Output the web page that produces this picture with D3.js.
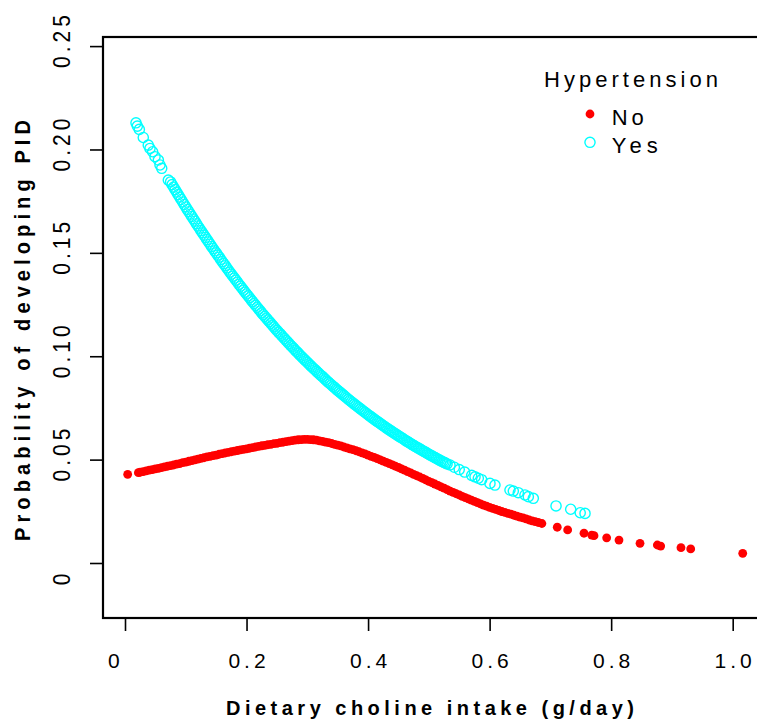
<!DOCTYPE html>
<html><head><meta charset="utf-8">
<script src="https://cdn.jsdelivr.net/npm/d3@7"></script>
<style>body{margin:0;background:#fff}svg{display:block}</style>
</head><body><svg id="c" width="757" height="719"></svg>
<script>
// ---- data ----
const noX = [0.0044,0.022,0.025,0.030,0.035,0.040,0.045,0.050,0.055,0.060,0.065,0.070,0.075,0.080,0.085,0.090,0.095,0.100,0.105,0.110,0.115,0.120,0.125,0.130,0.135,0.140,0.145,0.150,0.155,0.160,0.165,0.170,0.175,0.180,0.185,0.190,0.195,0.200,0.205,0.210,0.215,0.220,0.225,0.230,0.235,0.240,0.245,0.250,0.255,0.260,0.265,0.270,0.275,0.280,0.285,0.290,0.295,0.300,0.305,0.310,0.315,0.320,0.325,0.330,0.335,0.340,0.345,0.350,0.355,0.360,0.365,0.370,0.375,0.380,0.385,0.390,0.395,0.400,0.405,0.410,0.415,0.420,0.425,0.430,0.435,0.440,0.445,0.450,0.455,0.460,0.465,0.470,0.475,0.480,0.485,0.490,0.495,0.500,0.505,0.510,0.515,0.520,0.525,0.530,0.535,0.540,0.545,0.550,0.555,0.560,0.565,0.570,0.575,0.580,0.585,0.590,0.595,0.600,0.605,0.610,0.615,0.620,0.625,0.630,0.635,0.640,0.645,0.650,0.655,0.660,0.665,0.670,0.675,0.680,0.686,0.7113,0.7284,0.7553,0.768,0.7718,0.7926,0.8129,0.8475,0.876,0.8815,0.9149,0.9309,1.0165];
const noY = [0.0429,0.0437,0.0439,0.0442,0.0446,0.0449,0.0452,0.0455,0.0458,0.0461,0.0465,0.0468,0.0471,0.0474,0.0478,0.0481,0.0485,0.0488,0.0492,0.0495,0.0499,0.0502,0.0506,0.0509,0.0513,0.0516,0.0519,0.0522,0.0526,0.0529,0.0532,0.0535,0.0538,0.0541,0.0544,0.0547,0.0550,0.0552,0.0555,0.0558,0.0561,0.0564,0.0567,0.0569,0.0572,0.0574,0.0577,0.0579,0.0582,0.0584,0.0587,0.0589,0.0592,0.0594,0.0596,0.0597,0.0598,0.0598,0.0597,0.0596,0.0594,0.0591,0.0588,0.0585,0.0582,0.0578,0.0574,0.0570,0.0566,0.0561,0.0557,0.0552,0.0548,0.0543,0.0538,0.0533,0.0528,0.0522,0.0516,0.0511,0.0505,0.0499,0.0493,0.0487,0.0481,0.0475,0.0468,0.0462,0.0455,0.0449,0.0442,0.0436,0.0429,0.0422,0.0416,0.0409,0.0402,0.0395,0.0389,0.0382,0.0375,0.0368,0.0362,0.0355,0.0348,0.0342,0.0335,0.0329,0.0322,0.0316,0.0310,0.0304,0.0298,0.0292,0.0286,0.0280,0.0275,0.0269,0.0264,0.0259,0.0254,0.0249,0.0245,0.0240,0.0236,0.0231,0.0227,0.0222,0.0218,0.0213,0.0208,0.0204,0.0200,0.0196,0.0191,0.0173,0.0160,0.0144,0.0135,0.0132,0.0122,0.0111,0.0095,0.0087,0.0082,0.0074,0.0068,0.0047];
const yesX = [0.0181,0.0203,0.0236,0.0301,0.0383,0.0411,0.0455,0.0494,0.0549,0.0576,0.0604,0.0713,
 0.0750,0.0775,0.0800,0.0825,0.0850,0.0875,0.0900,0.0925,0.0950,0.0975,0.1000,0.1025,0.1050,0.1075,0.1100,0.1125,0.1150,0.1175,0.1200,0.1225,0.1250,0.1275,0.1300,0.1325,0.1350,0.1375,0.1400,0.1425,0.1450,0.1475,0.1500,0.1525,0.1550,0.1575,0.1600,0.1625,0.1650,0.1675,0.1700,0.1725,0.1750,0.1775,0.1800,0.1825,0.1850,0.1875,0.1900,0.1925,0.1950,0.1975,
 0.2000,0.2025,0.2050,0.2075,0.2100,0.2125,0.2150,0.2175,0.2200,0.2225,0.2250,0.2275,0.2300,0.2325,0.2350,0.2375,0.2400,0.2425,0.2450,0.2475,0.2500,0.2525,0.2550,0.2575,0.2600,0.2625,0.2650,0.2675,0.2700,0.2725,0.2750,0.2775,0.2800,0.2825,0.2850,0.2875,0.2900,0.2925,0.2950,0.2975,
 0.3000,0.3025,0.3050,0.3075,0.3100,0.3125,0.3150,0.3175,0.3200,0.3225,0.3250,0.3275,0.3300,0.3325,0.3350,0.3375,0.3400,0.3425,0.3450,0.3475,0.3500,0.3525,0.3550,0.3575,0.3600,0.3625,0.3650,0.3675,0.3700,0.3725,0.3750,0.3775,0.3800,0.3825,0.3850,0.3875,0.3900,0.3925,0.3950,0.3975,
 0.4000,0.4025,0.4050,0.4075,0.4100,0.4125,0.4150,0.4175,0.4200,0.4225,0.4250,0.4275,0.4300,0.4325,0.4350,0.4375,0.4400,0.4425,0.4450,0.4475,0.4500,0.4525,0.4550,0.4575,0.4600,0.4625,0.4650,0.4675,0.4700,0.4725,0.4750,0.4775,0.4800,0.4825,0.4850,0.4875,0.4900,0.4925,0.4950,0.4975,
 0.5000,0.5025,0.5050,0.5075,0.5100,0.5125,0.5150,0.5175,0.5200,0.5225,0.5250,0.5275,0.5300,
 0.5348,0.542,0.550,0.559,0.5705,0.576,0.5814,0.5869,0.6006,0.6088,0.6335,0.639,0.6472,0.6582,0.6637,0.6719,0.7093,0.7334,0.7491,0.757];
const yesY = [0.2129,0.2113,0.2097,0.2058,0.2021,0.2005,0.1989,0.1965,0.1949,0.1925,0.1909,0.1852,
 0.1843,0.1830,0.1818,0.1806,0.1794,0.1782,0.1770,0.1758,0.1746,0.1734,0.1722,0.1710,0.1699,0.1687,0.1676,0.1664,0.1653,0.1641,0.1630,0.1619,0.1608,0.1597,0.1586,0.1575,0.1564,0.1553,0.1542,0.1531,0.1521,0.1510,0.1500,0.1489,0.1479,0.1468,0.1458,0.1448,0.1438,0.1427,0.1417,0.1407,0.1397,0.1387,0.1378,0.1368,0.1358,0.1348,0.1339,0.1329,0.1320,0.1310,
 0.1301,0.1292,0.1283,0.1273,0.1264,0.1255,0.1246,0.1237,0.1228,0.1219,0.1210,0.1201,0.1193,0.1184,0.1176,0.1167,0.1159,0.1150,0.1142,0.1133,0.1125,0.1117,0.1109,0.1101,0.1093,0.1085,0.1077,0.1069,0.1061,0.1053,0.1046,0.1038,0.1030,0.1022,0.1015,0.1007,0.1000,0.0992,0.0985,0.0978,
 0.0971,0.0963,0.0956,0.0949,0.0942,0.0935,0.0928,0.0921,0.0914,0.0907,0.0901,0.0894,0.0887,0.0880,0.0874,0.0867,0.0861,0.0854,0.0848,0.0841,0.0835,0.0829,0.0823,0.0817,0.0811,0.0804,0.0798,0.0792,0.0786,0.0780,0.0774,0.0768,0.0763,0.0757,0.0751,0.0745,0.0740,0.0734,0.0729,0.0723,
 0.0717,0.0712,0.0707,0.0701,0.0696,0.0690,0.0685,0.0680,0.0675,0.0669,0.0664,0.0659,0.0654,0.0649,0.0644,0.0639,0.0634,0.0629,0.0625,0.0620,0.0615,0.0610,0.0606,0.0601,0.0596,0.0591,0.0587,0.0582,0.0578,0.0573,0.0569,0.0564,0.0560,0.0556,0.0552,0.0547,0.0543,0.0539,0.0535,0.0530,
 0.0526,0.0522,0.0518,0.0514,0.0510,0.0506,0.0502,0.0498,0.0494,0.0490,0.0487,0.0483,0.0479,
 0.0474,0.0463,0.0452,0.0440,0.0424,0.0417,0.0410,0.0403,0.0385,0.0377,0.0353,0.0348,0.0340,0.0329,0.0321,0.0313,0.0276,0.0260,0.0243,0.0240];
const xTicks = [0,0.2,0.4,0.6,0.8,1.0];
const xTickLabels = ["0","0.2","0.4","0.6","0.8","1.0"];
const yTicks = [0,0.05,0.10,0.15,0.20,0.25];
const yTickLabels = ["0","0.05","0.10","0.15","0.20","0.25"];
const seriesNames = ["No","Yes"];
const legendTitle = "Hypertension";
const xTitle = "Dietary choline intake (g/day)";
const yTitle = "Probability of developing PID";

// ---- drawing ----
const FONT = "'Liberation Sans', Arial, Helvetica, sans-serif";
const svg = d3.select("#c");
const L = 103, R = 768, T = 37, B = 618;
const x = d3.scaleLinear().domain([-0.0362, 1.0581]).range([L, R]);
const y = d3.scaleLinear().domain([-0.0266, 0.2544]).range([B, T]);

// points
const noData = noX.map((v,i)=>({x:v,y:noY[i]}));
const yesData = yesX.map((v,i)=>({x:v,y:yesY[i]}));
svg.append("g").selectAll("circle").data(yesData).join("circle")
  .attr("cx",d=>x(d.x)).attr("cy",d=>y(d.y)).attr("r",5.1)
  .attr("fill","none").attr("stroke","#00FFFF").attr("stroke-width",1.4);
svg.append("g").selectAll("circle").data(noData).join("circle")
  .attr("cx",d=>x(d.x)).attr("cy",d=>y(d.y)).attr("r",4.4)
  .attr("fill","#FF0000");

// box
svg.append("rect").attr("x",L).attr("y",T).attr("width",R-L).attr("height",B-T)
  .attr("fill","none").attr("stroke","#000").attr("stroke-width",2.2);

// x axis
const gx = svg.append("g").attr("transform",`translate(0,${B})`)
  .call(d3.axisBottom(x).tickValues(xTicks).tickFormat((d,i)=>xTickLabels[i]).tickSize(13));
gx.select(".domain").remove();
gx.selectAll(".tick line").attr("stroke","#000").attr("stroke-width",1.6);
gx.selectAll(".tick text").attr("y",50).attr("dy",0)
  .attr("dx",(d,i)=> xTickLabels[i]==="0" ? -9.7 : 2)
  .attr("fill","#000").style("font-family",FONT).style("font-size","21px").style("letter-spacing","4px");

// y axis
const gy = svg.append("g").attr("transform",`translate(${L},0)`)
  .call(d3.axisLeft(y).tickValues(yTicks).tickFormat((d,i)=>yTickLabels[i]).tickSize(13));
gy.select(".domain").remove();
gy.selectAll(".tick line").attr("stroke","#000").attr("stroke-width",1.6);
gy.selectAll(".tick text").attr("x",0).attr("y",0).attr("dy",0)
  .attr("dx",(d,i)=> yTickLabels[i]==="0" ? -14 : 7)
  .attr("text-anchor","middle")
  .attr("transform","translate(-33,0) scale(1.12,1) rotate(-90)")
  .attr("fill","#000").style("font-family",FONT).style("font-size","21px").style("letter-spacing","4px");

// titles
svg.append("text").attr("x",226).attr("y",715)
  .attr("textLength",408).attr("lengthAdjust","spacing")
  .style("font-family",FONT).style("font-size","20px").style("font-weight","bold")
  .text(xTitle);
svg.append("text").attr("transform","translate(30,541) scale(1.12,1) rotate(-90)")
  .attr("textLength",421).attr("lengthAdjust","spacing")
  .style("font-family",FONT).style("font-size","20px").style("font-weight","bold")
  .text(yTitle);

// legend
const lg = svg.append("g");
lg.append("text").attr("x",544).attr("y",87).attr("textLength",174).attr("lengthAdjust","spacing")
  .style("font-family",FONT).style("font-size","22px").text(legendTitle);
lg.append("circle").attr("cx",590).attr("cy",114).attr("r",4.4).attr("fill","#FF0000");
lg.append("circle").attr("cx",590).attr("cy",142.3).attr("r",5.1).attr("fill","none").attr("stroke","#00FFFF").attr("stroke-width",1.4);
lg.append("text").attr("x",611.7).attr("y",125).attr("textLength",32).attr("lengthAdjust","spacing")
  .style("font-family",FONT).style("font-size","22px").text(seriesNames[0]);
lg.append("text").attr("x",611.7).attr("y",152.7).attr("textLength",46).attr("lengthAdjust","spacing")
  .style("font-family",FONT).style("font-size","22px").text(seriesNames[1]);
</script></body></html>
